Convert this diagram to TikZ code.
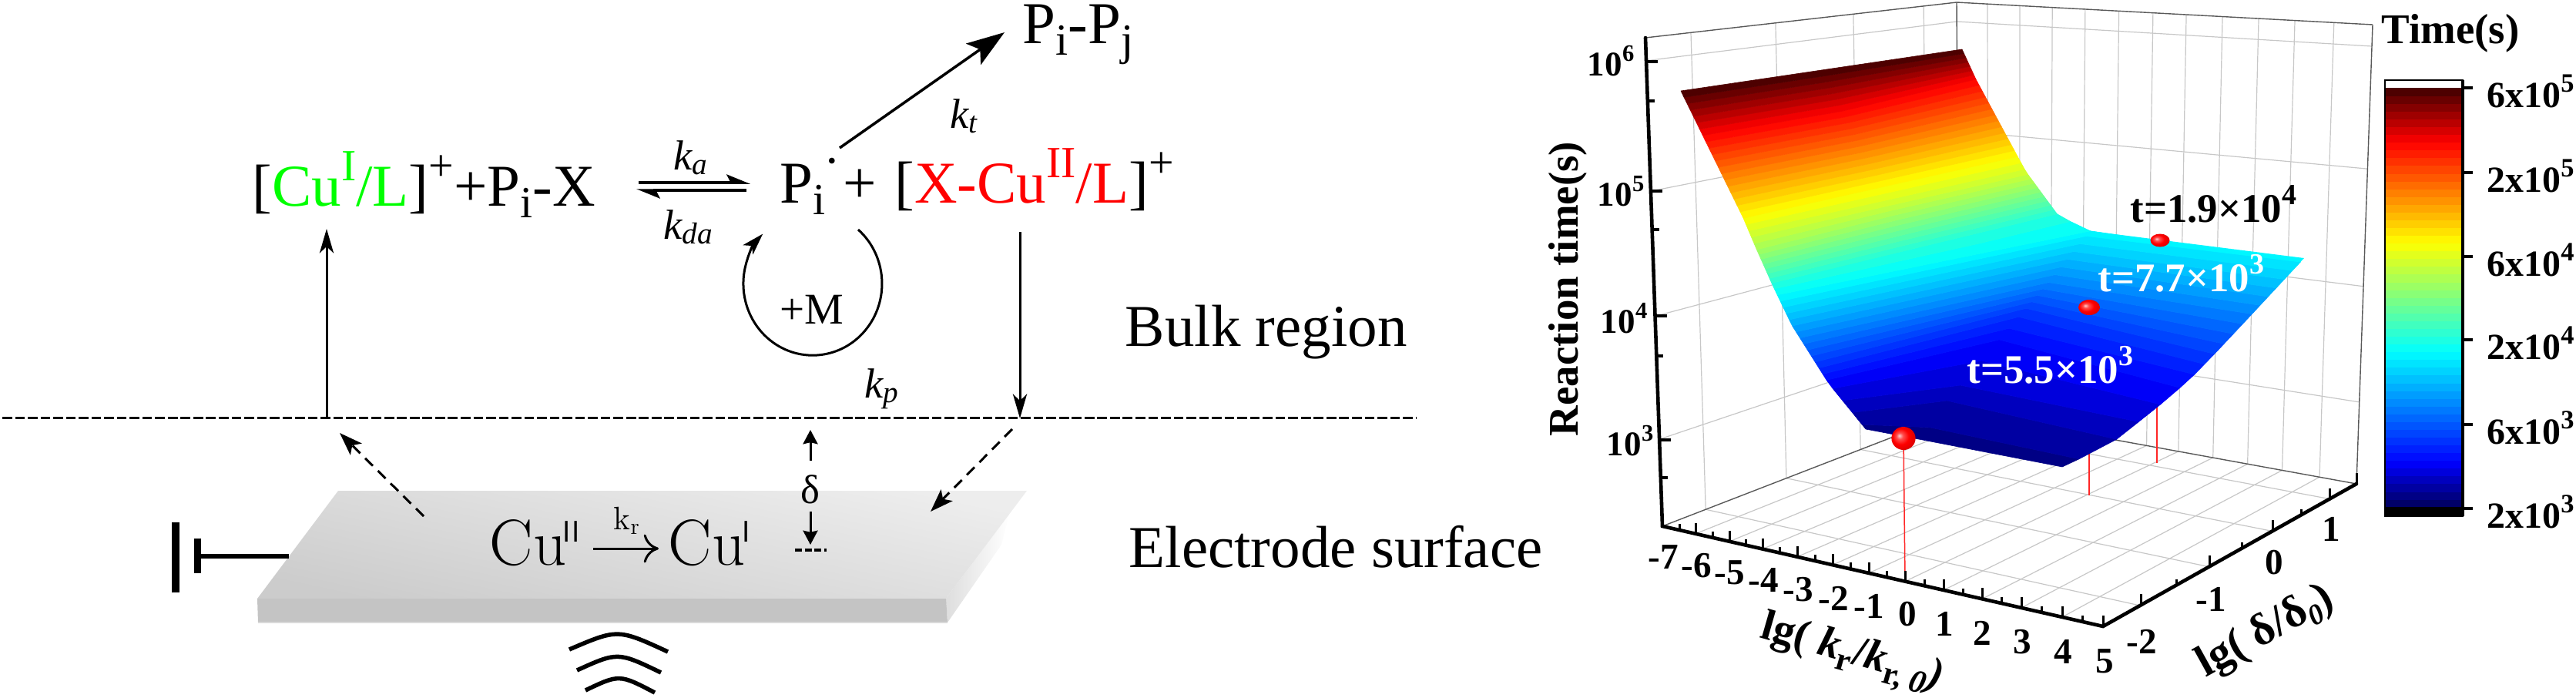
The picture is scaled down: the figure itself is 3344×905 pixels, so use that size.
\documentclass[tikz,border=0pt]{standalone}
\usepackage{fontspec}
\usepackage{graphicx}
\usetikzlibrary{arrows.meta,calc}
\newfontfamily\tnr{Liberation Serif}
\newcommand\fpx[1]{\fontsize{#1}{#1}\selectfont}
\newcommand\upt[3]{\raisebox{#2}{\scalebox{#1}{#3}}}
\definecolor{pgreen}{rgb}{0,1,0}
\definecolor{pred}{rgb}{1,0,0}
\pgfdeclareradialshading{rball}{\pgfpoint{-9bp}{6bp}}{color(0bp)=(white!80!red); color(7bp)=(red!70!white); color(17bp)=(red); color(32bp)=(red!82!black); color(50bp)=(red!55!black)}
\newcommand\setband[1]{%
 \pgfmathsetmacro\cR{max(0,min((#1-.37)/.26,1,1-(#1-.87)*5.77))}%
 \pgfmathsetmacro\cG{max(0,min((#1-.106)/.264,1,(.87-#1)/.24))}%
 \pgfmathsetmacro\cB{max(0,min(.35+#1*6.13,1,(.63-#1)/.26))}%
 \definecolor{bandc}{rgb}{\cR,\cG,\cB}}
\tikzset{
 declare function={
  clmp(\v)=max(0,min(1,\v));
  Ax(\t)=2422-48*clmp((\t-.03)/.07)-48*clmp((\t-.10)/.18)-25*clmp((\t-.28)/.12)-21*clmp((\t-.40)/.14)-17*clmp((\t-.54)/.09)-81*clmp((\t-.63)/.37);
  Ay(\t)=557-59*clmp((\t-.03)/.07)-76*clmp((\t-.10)/.18)-52*clmp((\t-.28)/.12)-47*clmp((\t-.40)/.14)-40*clmp((\t-.54)/.09)-165*clmp((\t-.63)/.37);
  Bx(\t)=2677+62*clmp((\t-.03)/.02)+62*clmp((\t-.05)/.04)+41*clmp((\t-.09)/.03)+35*clmp((\t-.12)/.05)+46*clmp((\t-.17)/.07)+68*clmp((\t-.24)/.12)-277*clmp((\t-.36)/.01)-42*clmp((\t-.37)/.03)-42*clmp((\t-.40)/.185)-11*clmp((\t-.585)/.045)-54*clmp((\t-.63)/.24)-18*clmp((\t-.87)/.13);
  By(\t)=606-29*clmp((\t-.03)/.02)-49*clmp((\t-.05)/.04)-35*clmp((\t-.09)/.03)-36*clmp((\t-.12)/.05)-49*clmp((\t-.17)/.07)-73*clmp((\t-.24)/.12)-35*clmp((\t-.36)/.01)-20*clmp((\t-.37)/.03)-57*clmp((\t-.40)/.185)-20*clmp((\t-.585)/.045)-100*clmp((\t-.63)/.24)-39*clmp((\t-.87)/.13);
  Mx(\t)=2496+27*clmp((\t-.03)/.02)+16*clmp((\t-.05)/.02)+53*clmp((\t-.07)/.036)+34*clmp((\t-.106)/.05)+33*clmp((\t-.156)/.084)+53*clmp((\t-.24)/.12)+2*clmp((\t-.36)/.01)-228*clmp((\t-.37)/.03)-35*clmp((\t-.40)/.185)-10*clmp((\t-.585)/.045)-76.5*clmp((\t-.63)/.37);
  My(\t)=571-46*clmp((\t-.03)/.02)-18*clmp((\t-.05)/.02)-62*clmp((\t-.07)/.036)-40*clmp((\t-.106)/.05)-38*clmp((\t-.156)/.084)-65*clmp((\t-.24)/.12)-2*clmp((\t-.36)/.01)+25*clmp((\t-.37)/.03)-62*clmp((\t-.40)/.185)-20*clmp((\t-.585)/.045)-152*clmp((\t-.63)/.37);
 },
 px/.style={line width=#1*0.2845pt},
 chem/.style={inner sep=0pt,anchor=base west,font=\tnr\fpx{21.9pt}},
 rate/.style={inner sep=0pt,anchor=base west,font=\tnr\itshape\fpx{15.5pt}},
 cmt/.style={inner sep=0pt,anchor=base west,font=\fpx{24pt}},
 tbold/.style={inner sep=0pt,anchor=base west,font=\tnr\bfseries\fpx{15pt}},
 ticklab/.style={inner sep=0pt,anchor=center,font=\tnr\bfseries\fpx{13.4pt}},
 zlab/.style={inner sep=0pt,anchor=base east,font=\tnr\bfseries\fpx{12.8pt}},
 cblab/.style={inner sep=0pt,anchor=west,font=\tnr\bfseries\fpx{13.6pt}},
 arr/.style={px=3,-{Stealth[length=9pt,width=5.2pt,inset=2.5pt]}},
 dasharr/.style={px=3,dash pattern=on 4pt off 2.6pt,-{Stealth[length=8.5pt,width=6pt,inset=2pt]}},
 smallarr/.style={px=3,-{Stealth[length=5.2pt,width=5.4pt,inset=.6pt]}},
 gridl/.style={px=1.2,black!22},
 edgel/.style={px=1.4,black!65},
 axisl/.style={px=4.6,black,line cap=round},
 tickl/.style={px=3,black},
 wave/.style={px=5.5,black},
}
\begin{document}
\begin{tikzpicture}[x=0.01cm,y=-0.01cm]
\useasboundingbox (0,0) rectangle (3344,905);
%% ---------- left scheme ----------
\coordinate (boundL) at (3,542); \coordinate (boundR) at (1839,542);
\draw[px=3,dash pattern=on 3.6pt off 1.1pt] (boundL)--(boundR);
% plate
\coordinate (tl) at (439,637); \coordinate (tr) at (1333,637);
\coordinate (fl) at (334,777); \coordinate (fr) at (1228,777);
\coordinate (bl) at (335,808); \coordinate (br) at (1230,808);
\coordinate (s1) at (1310,668); \coordinate (s2) at (1300,707);
\shade[left color=black!13,right color=white] (fr)--(s1)--(s2)--(br)--cycle;
\shade[top color=black!7,bottom color=black!20,shading angle=-12] (tl)--(tr)--(fr)--(fl)--cycle;
\fill[black!23] (fl)--(fr)--(br)--(bl)--cycle;
\draw[px=1.5,black!15] (bl)--(br);
% battery
\coordinate (b1a) at (228,678); \coordinate (b1b) at (228,769);
\coordinate (b2a) at (256,699); \coordinate (b2b) at (256,744);
\coordinate (bw1) at (256,722); \coordinate (bw2) at (375,722);
\draw[px=9] (b1a)--(b1b); \draw[px=9] (b2a)--(b2b); \draw[px=6] (bw1)--(bw2);
% waves
\coordinate (w1a) at (739,843); \coordinate (w1c) at (802,816); \coordinate (w1b) at (867,846);
\coordinate (w2a) at (749,870); \coordinate (w2c) at (802,846); \coordinate (w2b) at (858,873);
\coordinate (w3a) at (760,896); \coordinate (w3c) at (804,875); \coordinate (w3b) at (850,899);
\draw[wave] (w1a) .. controls (w1c) .. (w1b);
\draw[wave] (w2a) .. controls (w2c) .. (w2b);
\draw[wave] (w3a) .. controls (w3c) .. (w3b);
% texts
\node[chem] (cuI) at (327,267) {[\textcolor{pgreen}{Cu\upt{.75}{.42em}{I}/L}]\upt{.75}{.42em}{+}+P\upt{.75}{-.2em}{i}-X};
\node[rate] (ka) at (874,220) {k\upt{.72}{-.12em}{a}};
\node[rate] (kda) at (861,310) {k\upt{.72}{-.12em}{da}};
\node[chem] (pii) at (1012,263) {P\upt{.75}{-.2em}{i}};
\node[inner sep=0pt,font=\tnr\fpx{9pt}] (rad) at (1080,212) {•};
\node[chem] (plus) at (1094,263) {+};
\node[chem] (xcu) at (1161,263) {[\textcolor{pred}{X-Cu\upt{.75}{.42em}{II}/L}]\upt{.75}{.42em}{+}};
\node[chem] (pp) at (1327,56) {P\upt{.75}{-.2em}{i}-P\upt{.75}{-.2em}{j}};
\node[rate] (kt) at (1233,166) {k\upt{.72}{-.12em}{t}};
\node[rate] (kp) at (1122,516) {k\upt{.72}{-.12em}{p}};
\node[chem,font=\tnr\fpx{16.2pt}] (plusM) at (1012,420) {+M};
\node[chem] (bulk) at (1460,449) {Bulk region};
\node[chem] (elec) at (1465,736) {Electrode surface};
\node[inner sep=0pt,font=\tnr\fpx{15pt}] (delta) at (1052,635) {δ};
\node[cmt] (cu2) at (635,733) {Cu};
\node[inner sep=0pt,anchor=base west,font=\sffamily\fpx{11pt}] (cu2s) at (730,703) {II};
\node[cmt] (cu1) at (867,733) {Cu};
\node[inner sep=0pt,anchor=base west,font=\sffamily\fpx{11pt}] (cu1s) at (963,703) {I};
\node[inner sep=0pt,anchor=base west,font=\fpx{12pt}] (kr) at (796,687) {k\upt{.7}{-.15em}{r}};
% connectors
\coordinate (upA) at (424,542); \coordinate (upB) at (424,297);
\draw[arr] (upA)--(upB);
\coordinate (dnA) at (1324,301); \coordinate (dnB) at (1324,543);
\draw[arr] (dnA)--(dnB);
\coordinate (ptA) at (1090,192); \coordinate (ptB) at (1304,42);
\draw[px=3.5,-{Stealth[length=14pt,width=9.5pt,inset=3pt]}] (ptA)--(ptB);
\coordinate (eqA) at (829,237); \coordinate (eqB) at (974,237);
\coordinate (eqC) at (969,247); \coordinate (eqD) at (826,247);
\draw[px=3.5,-{Stealth[length=7.5pt,width=6pt,inset=1.5pt,harpoon]}] (eqA)--(eqB);
\draw[px=3.5,-{Stealth[length=7.5pt,width=6pt,inset=1.5pt,harpoon]}] (eqC)--(eqD);
\coordinate (da1) at (550,670); \coordinate (da2) at (441,562);
\draw[dasharr] (da1)--(da2);
\coordinate (db1) at (1314,557); \coordinate (db2) at (1208,664);
\draw[dasharr] (db1)--(db2);
\coordinate (dU1) at (1052,598); \coordinate (dU2) at (1052,558);
\draw[smallarr] (dU1)--(dU2);
\coordinate (dD1) at (1052,664); \coordinate (dD2) at (1052,707);
\draw[smallarr] (dD1)--(dD2);
\coordinate (dm1) at (1032,714); \coordinate (dm2) at (1073,714);
\draw[px=3.5,dash pattern=on 2.6pt off 1pt] (dm1)--(dm2);
\coordinate (mS) at (1114,298);
\draw[px=3,-{Stealth[length=8pt,width=5pt,inset=2pt]}] (mS) arc[start angle=-49,end angle=224,x radius=90,y radius=93];
\coordinate (rA) at (770,712); \coordinate (rB) at (855,712);
\draw[px=3,-{Computer Modern Rightarrow[length=5.5pt,width=10.5pt]}] (rA)--(rB);
%% ---------- chart walls ----------
\coordinate (T0) at (2136,49); \coordinate (T1) at (2540,3); \coordinate (T2) at (3080,32);
\coordinate (C00) at (2158,683); \coordinate (C01) at (2543,534); \coordinate (C10) at (2730,813); \coordinate (C11) at (3059,628);
\foreach \g in {.146,.418,.668,.894}{
  \draw[gridl] ($(T0)!\g!(T1)$)--($(C00)!\g!(C01)$);
  \draw[gridl] ($(C00)!\g!(C01)$)--($(C10)!\g!(C11)$);
}
\foreach \f in {.074,.152,.230,.309,.390,.472,.552,.639,.726,.813,.907}{
  \draw[gridl] ($(T1)!\f!(T2)$)--($(C01)!\f!(C11)$);
}
\foreach \xt/\f in {2201/.074,2245/.152,2288/.230,2333/.309,2379/.390,2426/.472,2473/.552,2523/.639,2573/.726,2624/.813,2677/.907}{
  \pgfmathsetmacro\yt{683+(\xt-2158)*.22727}
  \draw[gridl] (\xt,\yt)--($(C01)!\f!(C11)$);
}
\foreach \h in {.047,.314,.570,.822}{
  \draw[gridl] ($(T0)!\h!(C00)$)--($(T1)!\h!(C01)$)--($(T2)!\h!(C11)$);
}
\draw[edgel] (T0)--(T1)--(T2);
\draw[edgel] (T2)--(C11);
\draw[edgel] (T1)--(C01);
\draw[edgel] (C00)--(C01)--(C11);
% drop lines
\coordinate (r1a) at (2471,568); \coordinate (r1b) at (2473,753);
\coordinate (r2a) at (2712,560); \coordinate (r2b) at (2712,643);
\coordinate (r3a) at (2800,500); \coordinate (r3b) at (2800,601);
\draw[px=1.5,red!85] (r1a)--(r1b); \draw[px=1.5,red!85] (r2a)--(r2b); \draw[px=1.5,red!85] (r3a)--(r3b);
%% ---------- surface ----------
\setband{.362}
\fill[bandc] (2714,300)--(2991,335)--(2975,352)--(2700,315)--cycle;
\foreach \k in {1,...,53}{
  \pgfmathsetmacro\ta{max(.03,\k/54)}
  \pgfmathsetmacro\tb{(\k+1)/54}
  \pgfmathsetmacro\tc{(\k+.5)/54}
  \setband{\tc}
  \filldraw[bandc,px=.6,line join=round] ({Ax(\ta)},{Ay(\ta)})--({Mx(\ta)},{My(\ta)})--({Bx(\ta)},{By(\ta)})--({Bx(\tb)},{By(\tb)})--({Mx(\tb)},{My(\tb)})--({Ax(\tb)},{Ay(\tb)})--cycle;
}
% balls
\shade[shading=rball] (2471,569) ellipse[x radius=15.6,y radius=15];
\shade[shading=rball] (2712,399) ellipse[x radius=14,y radius=10];
\shade[shading=rball] (2804,312) ellipse[x radius=12.5,y radius=8.5];
% surface labels
\node[tbold] (t1) at (2765,288) {t=1.9×10\upt{.72}{.42em}{4}};
\node[tbold,text=white] (t2) at (2723,378) {t=7.7×10\upt{.72}{.42em}{3}};
\node[tbold,text=white] (t3) at (2553,497) {t=5.5×10\upt{.72}{.42em}{3}};
%% ---------- axes ----------
\draw[axisl] (T0)--(C00)--(C10)--(C11);
\foreach \ty in {80,248,410,571}{
  \pgfmathsetmacro\ax{2136+(\ty-49)*0.0347}
  \draw[px=4] (\ax,\ty)--(\ax+15,\ty);
}
\foreach \ty in {131,298,462,620}{
  \pgfmathsetmacro\ax{2136+(\ty-49)*0.0347}
  \draw[px=4] (\ax,\ty)--(\ax+9,\ty);
}
\foreach \xt in {2201,2245,2288,2333,2379,2426,2473,2523,2573,2624,2677,2730}{
  \pgfmathsetmacro\yt{683+(\xt-2158)*.22727}
  \draw[tickl] (\xt,\yt)--(\xt,\yt-14);
}
\foreach \xt in {2180,2223,2266,2310,2356,2402,2449,2498,2548,2598,2650,2703}{
  \pgfmathsetmacro\yt{683+(\xt-2158)*.22727}
  \draw[tickl] (\xt,\yt)--(\xt,\yt-8);
}
\foreach \xt in {2779,2868,2950,3024,3059}{
  \pgfmathsetmacro\yt{813-(\xt-2730)*.5623}
  \draw[tickl] (\xt,\yt)--(\xt,\yt-14);
}
\foreach \xt in {2825,2910,2987}{
  \pgfmathsetmacro\yt{813-(\xt-2730)*.5623}
  \draw[tickl] (\xt,\yt)--(\xt,\yt-8);
}
\foreach \n/\lx/\ly/\lt in {a/2159/723/-7,b/2202/734/-6,c/2245/743/-5,d/2289/753/-4,e/2334/765/-3,f/2380/777/-2,g/2426/787/-1,h/2476/797/0,i/2524/810/1,j/2573/822/2,k/2625/833/3,l/2678/846/4,m/2732/858/5}{
  \node[ticklab] (xl\n) at (\lx,\ly) {\lt};
}
\foreach \n/\lx/\ly/\lt in {a/2780/833/-2,b/2870/778/-1,c/2952/730/0,d/3026/687/1}{
  \node[ticklab] (yl\n) at (\lx,\ly) {\lt};
}
\node[zlab] (z6) at (2122,98) {10\upt{.68}{.42em}{6}};
\node[zlab] (z5) at (2135,267) {10\upt{.68}{.42em}{5}};
\node[zlab] (z4) at (2139,432) {10\upt{.68}{.42em}{4}};
\node[zlab] (z3) at (2147,591) {10\upt{.68}{.42em}{3}};
\node[inner sep=0pt,rotate=90,font=\tnr\bfseries\fpx{15.6pt}] (ztitle) at (2035,375) {Reaction time(s)};
\node[inner sep=0pt,anchor=base west,rotate=-16,font=\tnr\bfseries\fpx{16pt}] (xtitle) at (2283,827) {lg( {\itshape k}\upt{.75}{-.22em}{r}/{\itshape k}\upt{.75}{-.22em}{r, \itshape 0}{\itshape )}};
\node[inner sep=0pt,anchor=base west,rotate=29,font=\tnr\bfseries\fpx{16.5pt}] (ytitle) at (2863,880) {lg( δ/δ\upt{.65}{-.18em}{\itshape 0})};
%% ---------- colour bar ----------
\fill[white] (3096,104) rectangle (3197,114);
\foreach \k in {0,...,53}{
  \pgfmathsetmacro\tc{(\k+.5)/54}
  \setband{\tc}
  \pgfmathsetmacro\ya{658-\k*10.074}
  \pgfmathsetmacro\yb{\ya-10.074}
  \filldraw[bandc,px=.6] (3096,\ya) rectangle (3197,\yb);
}
\fill[black] (3096,658) rectangle (3197,670);
\coordinate (cbA) at (3096,104); \coordinate (cbB) at (3197,670);
\draw[px=2] (cbA) rectangle (cbB);
\draw[px=3.5] (3197,104)--(cbB);
\foreach \ty in {114,224,333,441,551,660}{
  \draw[px=4] (3197,\ty)--(3210,\ty);
}
\foreach \n/\ty/\lt/\le in {a/118/6/5,b/228/2/5,c/337/6/4,d/445/2/4,e/555/6/3,f/664/2/3}{
  \node[cblab] (cl\n) at (3228,\ty) {\lt x10\upt{.72}{.42em}{\le}};
}
\node[inner sep=0pt,anchor=base west,font=\tnr\bfseries\fpx{15.6pt}] (ctitle) at (3091,56) {Time(s)};
\end{tikzpicture}
\end{document}
